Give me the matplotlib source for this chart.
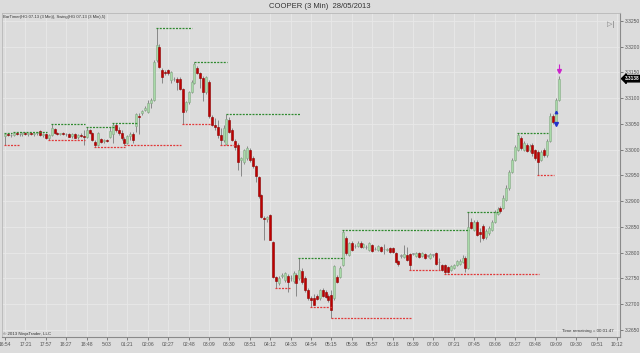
import matplotlib
matplotlib.use('Agg')
import matplotlib.pyplot as plt
import numpy as np

plt.rcParams['font.family'] = ['Liberation Sans', 'DejaVu Sans']

title = 'COOPER (3 Min)  28/05/2013'
indicator_text = 'BarTimer(HG 07-13 (3 Min)), Swing(HG 07-13 (3 Min),5)'
copyright_text = '\u00a9 2013 NinjaTrader, LLC'
timer_text = 'Time remaining = 00:01:47'

# one label every 7 bars (21 minutes)
time_labels = ['16:54', '17:21', '17:57', '18:27', '18:48', '5:03', '01:21', '02:06',
               '02:27', '02:48', '03:09', '03:30', '03:51', '04:12', '04:33', '04:54',
               '05:15', '05:36', '05:57', '06:18', '06:39', '07:00', '07:21', '07:45',
               '08:06', '08:27', '08:48', '09:09', '09:30', '09:51', '10:12']

price_ticks = [3.2650, 3.2700, 3.2750, 3.2800, 3.2850, 3.2900, 3.2950,
               3.3000, 3.3050, 3.3100, 3.3150, 3.3200, 3.3250]

opens = [3.3026, 3.3030, 3.3028, 3.3028, 3.3032, 3.3030, 3.3030, 3.3032, 3.3030, 3.3032,
         3.3030, 3.3032, 3.3036, 3.3028, 3.3030, 3.3022, 3.3028, 3.3041, 3.3032, 3.3030,
         3.3032, 3.3030, 3.3030, 3.3026, 3.3030, 3.3024, 3.3028, 3.3026, 3.3024, 3.3038,
         3.3032, 3.3015, 3.3009, 3.3021, 3.3017, 3.3019, 3.3024, 3.3030, 3.3048, 3.3038,
         3.3032, 3.3021, 3.3013, 3.3026, 3.3030, 3.3046, 3.3065, 3.3071, 3.3077, 3.3073,
         3.3091, 3.3097, 3.3174, 3.3200, 3.3155, 3.3151, 3.3155, 3.3135, 3.3137, 3.3137,
         3.3137, 3.3118, 3.3077, 3.3093, 3.3112, 3.3130, 3.3159, 3.3149, 3.3139, 3.3112,
         3.3132, 3.3063, 3.3048, 3.3044, 3.3028, 3.3019, 3.3011, 3.3058, 3.3038, 3.3017,
         3.3009, 3.2980, 3.2976, 3.2984, 3.2999, 3.2984, 3.2968, 3.2947, 3.2912, 3.2868,
         3.2866, 3.2874, 3.2821, 3.2753, 3.2742, 3.2755, 3.2747, 3.2755, 3.2751, 3.2745,
         3.2757, 3.2751, 3.2765, 3.2751, 3.2728, 3.2712, 3.2712, 3.2716, 3.2712, 3.2728,
         3.2724, 3.2716, 3.2718, 3.2712, 3.2753, 3.2753, 3.2776, 3.2829, 3.2796, 3.2819,
         3.2813, 3.2813, 3.2819, 3.2811, 3.2811, 3.2805, 3.2815, 3.2807, 3.2805, 3.2811,
         3.2807, 3.2805, 3.2809, 3.2809, 3.2800, 3.2784, 3.2794, 3.2792, 3.2796, 3.2798,
         3.2798, 3.2794, 3.2800, 3.2794, 3.2798, 3.2794, 3.2790, 3.2796, 3.2800, 3.2782,
         3.2776, 3.2776, 3.2773, 3.2767, 3.2771, 3.2776, 3.2778, 3.2782, 3.2790, 3.2771,
         3.2860, 3.2844, 3.2860, 3.2840, 3.2852, 3.2831, 3.2838, 3.2844, 3.2860, 3.2876,
         3.2887, 3.2887, 3.2902, 3.2926, 3.2957, 3.2980, 3.2999, 3.3022, 3.2999, 3.3009,
         3.2999, 3.3009, 3.2999, 3.2996, 3.2980, 3.2999, 3.2990, 3.3017, 3.3065, 3.3054,
         3.3097]
highs = [3.3032, 3.3032, 3.3030, 3.3034, 3.3034, 3.3032, 3.3034, 3.3034, 3.3032, 3.3034,
         3.3034, 3.3034, 3.3038, 3.3032, 3.3032, 3.3030, 3.3050, 3.3042, 3.3034, 3.3032,
         3.3034, 3.3032, 3.3032, 3.3032, 3.3032, 3.3030, 3.3032, 3.3038, 3.3044, 3.3041,
         3.3034, 3.3019, 3.3034, 3.3022, 3.3021, 3.3021, 3.3044, 3.3052, 3.3052, 3.3044,
         3.3038, 3.3024, 3.3028, 3.3034, 3.3034, 3.3071, 3.3071, 3.3077, 3.3085, 3.3097,
         3.3100, 3.3174, 3.3236, 3.3205, 3.3159, 3.3155, 3.3157, 3.3153, 3.3141, 3.3141,
         3.3141, 3.3120, 3.3095, 3.3114, 3.3135, 3.3170, 3.3163, 3.3151, 3.3143, 3.3143,
         3.3135, 3.3067, 3.3061, 3.3058, 3.3042, 3.3048, 3.3069, 3.3063, 3.3042, 3.3021,
         3.3013, 3.2986, 3.3002, 3.3007, 3.3003, 3.2988, 3.2970, 3.2949, 3.2914, 3.2872,
         3.2872, 3.2876, 3.2823, 3.2755, 3.2755, 3.2761, 3.2763, 3.2759, 3.2757, 3.2765,
         3.2761, 3.2790, 3.2771, 3.2755, 3.2732, 3.2716, 3.2720, 3.2720, 3.2730, 3.2732,
         3.2728, 3.2720, 3.2728, 3.2776, 3.2757, 3.2774, 3.2844, 3.2833, 3.2821, 3.2823,
         3.2817, 3.2823, 3.2823, 3.2819, 3.2815, 3.2821, 3.2817, 3.2811, 3.2815, 3.2813,
         3.2817, 3.2809, 3.2811, 3.2811, 3.2802, 3.2786, 3.2798, 3.2815, 3.2811, 3.2800,
         3.2800, 3.2802, 3.2802, 3.2802, 3.2800, 3.2796, 3.2800, 3.2798, 3.2802, 3.2790,
         3.2778, 3.2778, 3.2774, 3.2776, 3.2778, 3.2786, 3.2788, 3.2796, 3.2794, 3.2879,
         3.2868, 3.2864, 3.2864, 3.2848, 3.2856, 3.2846, 3.2852, 3.2864, 3.2883, 3.2889,
         3.2891, 3.2912, 3.2932, 3.2961, 3.2984, 3.3009, 3.3032, 3.3026, 3.3017, 3.3013,
         3.3011, 3.3013, 3.3002, 3.2999, 3.2999, 3.3003, 3.3021, 3.3071, 3.3069, 3.3100,
         3.3143]
lows = [3.3009, 3.3026, 3.3024, 3.3026, 3.3028, 3.3026, 3.3026, 3.3028, 3.3026, 3.3028,
        3.3026, 3.3028, 3.3026, 3.3024, 3.3021, 3.3019, 3.3026, 3.3030, 3.3028, 3.3028,
        3.3028, 3.3026, 3.3024, 3.3022, 3.3022, 3.3021, 3.3024, 3.3009, 3.3022, 3.3030,
        3.3017, 3.3005, 3.3007, 3.3013, 3.3013, 3.3015, 3.3022, 3.3013, 3.3034, 3.3028,
        3.3019, 3.3009, 3.3011, 3.3019, 3.3013, 3.3034, 3.3030, 3.3067, 3.3075, 3.3071,
        3.3081, 3.3095, 3.3170, 3.3159, 3.3130, 3.3145, 3.3145, 3.3130, 3.3133, 3.3116,
        3.3116, 3.3050, 3.3073, 3.3089, 3.3110, 3.3128, 3.3147, 3.3120, 3.3095, 3.3108,
        3.3061, 3.3046, 3.3038, 3.3022, 3.3009, 3.3015, 3.3009, 3.3032, 3.3017, 3.2999,
        3.2961, 3.2949, 3.2972, 3.2980, 3.2976, 3.2965, 3.2937, 3.2906, 3.2868, 3.2825,
        3.2860, 3.2825, 3.2751, 3.2732, 3.2738, 3.2751, 3.2743, 3.2724, 3.2745, 3.2742,
        3.2716, 3.2747, 3.2740, 3.2724, 3.2708, 3.2695, 3.2699, 3.2708, 3.2708, 3.2714,
        3.2712, 3.2704, 3.2673, 3.2708, 3.2742, 3.2751, 3.2774, 3.2796, 3.2794, 3.2804,
        3.2809, 3.2811, 3.2809, 3.2809, 3.2807, 3.2804, 3.2802, 3.2805, 3.2804, 3.2802,
        3.2798, 3.2804, 3.2800, 3.2800, 3.2780, 3.2774, 3.2790, 3.2790, 3.2784, 3.2767,
        3.2796, 3.2792, 3.2790, 3.2792, 3.2788, 3.2792, 3.2788, 3.2792, 3.2776, 3.2767,
        3.2765, 3.2759, 3.2761, 3.2765, 3.2769, 3.2774, 3.2776, 3.2780, 3.2763, 3.2769,
        3.2846, 3.2842, 3.2833, 3.2821, 3.2825, 3.2827, 3.2835, 3.2842, 3.2858, 3.2874,
        3.2877, 3.2885, 3.2901, 3.2922, 3.2955, 3.2978, 3.2998, 3.2999, 3.2998, 3.2996,
        3.2996, 3.2988, 3.2980, 3.2951, 3.2978, 3.2986, 3.2986, 3.3015, 3.3050, 3.3046,
        3.3095]
closes = [3.3030, 3.3028, 3.3028, 3.3032, 3.3030, 3.3030, 3.3032, 3.3030, 3.3032, 3.3030,
          3.3032, 3.3034, 3.3028, 3.3030, 3.3022, 3.3028, 3.3042, 3.3032, 3.3030, 3.3032,
          3.3030, 3.3030, 3.3024, 3.3030, 3.3022, 3.3028, 3.3026, 3.3024, 3.3038, 3.3032,
          3.3019, 3.3009, 3.3032, 3.3015, 3.3019, 3.3017, 3.3036, 3.3048, 3.3038, 3.3032,
          3.3022, 3.3013, 3.3026, 3.3030, 3.3019, 3.3069, 3.3063, 3.3075, 3.3081, 3.3091,
          3.3097, 3.3170, 3.3203, 3.3161, 3.3141, 3.3149, 3.3149, 3.3151, 3.3137, 3.3132,
          3.3118, 3.3073, 3.3093, 3.3112, 3.3132, 3.3167, 3.3149, 3.3139, 3.3112, 3.3141,
          3.3065, 3.3048, 3.3044, 3.3028, 3.3019, 3.3042, 3.3060, 3.3034, 3.3019, 3.3005,
          3.2976, 3.2984, 3.2999, 3.3003, 3.2980, 3.2968, 3.2949, 3.2910, 3.2870, 3.2866,
          3.2870, 3.2825, 3.2753, 3.2745, 3.2751, 3.2757, 3.2761, 3.2743, 3.2751, 3.2761,
          3.2742, 3.2767, 3.2743, 3.2728, 3.2712, 3.2708, 3.2699, 3.2711, 3.2728, 3.2716,
          3.2714, 3.2708, 3.2689, 3.2774, 3.2743, 3.2771, 3.2840, 3.2800, 3.2819, 3.2805,
          3.2813, 3.2819, 3.2811, 3.2817, 3.2811, 3.2819, 3.2804, 3.2807, 3.2813, 3.2804,
          3.2807, 3.2807, 3.2802, 3.2802, 3.2782, 3.2778, 3.2794, 3.2798, 3.2786, 3.2776,
          3.2798, 3.2800, 3.2792, 3.2800, 3.2790, 3.2794, 3.2798, 3.2796, 3.2778, 3.2782,
          3.2767, 3.2763, 3.2763, 3.2774, 3.2776, 3.2784, 3.2784, 3.2790, 3.2771, 3.2850,
          3.2848, 3.2860, 3.2835, 3.2836, 3.2829, 3.2842, 3.2848, 3.2860, 3.2879, 3.2885,
          3.2881, 3.2906, 3.2926, 3.2957, 3.2980, 3.3005, 3.3028, 3.3003, 3.3013, 3.2998,
          3.3007, 3.2994, 3.2984, 3.2976, 3.2996, 3.2990, 3.3017, 3.3065, 3.3054, 3.3097,
          3.3138]

# swing indicator lines: (first bar, last bar, price)
swing_highs = [(0, 2, 3.3032), (3, 14, 3.3034), (16, 27, 3.3050), (28, 37, 3.3044),
               (37, 45, 3.3052), (52, 64, 3.3236), (65, 76, 3.3170), (76, 101, 3.3069),
               (101, 116, 3.2790), (116, 159, 3.2844), (159, 169, 3.2879), (176, 186, 3.3032)]
swing_lows = [(0, 5, 3.3009), (15, 27, 3.3019), (31, 41, 3.3005), (41, 60, 3.3009),
              (61, 70, 3.3050), (74, 79, 3.3009), (93, 98, 3.2732), (105, 112, 3.2695),
              (112, 139, 3.2673), (139, 149, 3.2767), (151, 183, 3.2759), (183, 188, 3.2951)]

last_price = 3.3138

bg = '#dcdcdc'
fig = plt.figure(figsize=(6.4, 3.53), dpi=100, facecolor=bg)
ax = fig.add_axes([2 / 640, 16 / 353, 618 / 640, 324 / 353])
ax.set_facecolor(bg)

o = np.array(opens)
h = np.array(highs)
l = np.array(lows)
c = np.array(closes)
idx = np.arange(len(c))
up = c > o
down = c < o
flat = c == o

# wicks
ax.vlines(idx, l, h, color='#7a7a7a', lw=0.6, zorder=2)

bottom = np.minimum(o, c)
height = np.maximum(np.abs(c - o), 0.00008)
w = 0.68
ax.bar(idx[up], height[up], bottom=bottom[up], width=w, color='#a8daa8',
       edgecolor='#86a886', lw=0.4, zorder=3)
ax.bar(idx[down], height[down], bottom=bottom[down], width=w, color='#c00000',
       edgecolor='#8a0000', lw=0.4, zorder=3)
ax.bar(idx[flat], height[flat], bottom=bottom[flat], width=w, color='#b4b4b4',
       edgecolor='#8a8a8a', lw=0.4, zorder=3)

# swing lines
for s, e, p in swing_highs:
	ax.hlines(p, s - 0.3, e + 0.3, colors='#2f8a2f', lw=0.9, linestyles=(0, (1.6, 1.0)), zorder=4)
for s, e, p in swing_lows:
	ax.hlines(p, s - 0.3, e + 0.3, colors='#e03a3a', lw=0.9, linestyles=(0, (1.6, 1.0)), zorder=4)

# signal arrows near the last bars
ax.plot([190], [3.3153], marker='v', color='#cc22cc', ms=2.8, zorder=5)
ax.vlines([190], 3.3153, 3.3167, color='#cc22cc', lw=0.8, zorder=5)
ax.plot([189], [3.3050], marker='v', color='#2233cc', ms=2.8, zorder=5)
ax.plot([189], [3.3073], marker='^', color='#2233cc', ms=1.8, zorder=5)

ax.set_xlim(-1.03, 211.03)
ax.set_ylim(3.26364, 3.32655)

ax.set_xticks(list(range(0, 7 * len(time_labels), 7)))
ax.set_xticklabels(time_labels)
ax.set_yticks(price_ticks)
ax.set_yticklabels(['%.4f' % p for p in price_ticks])
ax.yaxis.tick_right()
ax.tick_params(axis='both', labelsize=3.6, colors='#555555', length=2, width=0.5, pad=1.5)
ax.grid(True, color='#e8e8e8', lw=0.6, zorder=0)
ax.set_axisbelow(True)

for side in ['left', 'top']:
	ax.spines[side].set_color('#b8b8b8')
	ax.spines[side].set_linewidth(0.6)
for side in ['right', 'bottom']:
	ax.spines[side].set_color('#8a8a8a')
	ax.spines[side].set_linewidth(0.8)

# current price marker on the price axis
ax.annotate('%.4f' % last_price, xy=(1, last_price), xycoords=('axes fraction', 'data'),
            xytext=(3.5, 0), textcoords='offset points', fontsize=3.4, color='white',
            fontweight='bold', va='center', ha='left', annotation_clip=False,
            bbox=dict(boxstyle='larrow,pad=0.15', fc='black', ec='black'))

fig.text(0.5, 1 - 6 / 353, title, ha='center', va='center', fontsize=5.5, color='#333333')
ax.text(0.002, 0.995, indicator_text, transform=ax.transAxes, ha='left', va='top',
        fontsize=3.0, color='#333333')
ax.text(0.002, 0.004, copyright_text, transform=ax.transAxes, ha='left', va='bottom',
        fontsize=3.2, color='#333333')
ax.text(0.99, 0.012, timer_text, transform=ax.transAxes, ha='right', va='bottom',
        fontsize=3.2, color='#333333')
ax.text(0.99, 0.975, '\u25b7|', transform=ax.transAxes, ha='right', va='top',
        fontsize=5, color='#777777')

fig.savefig('out.png', dpi=100, facecolor=bg)
